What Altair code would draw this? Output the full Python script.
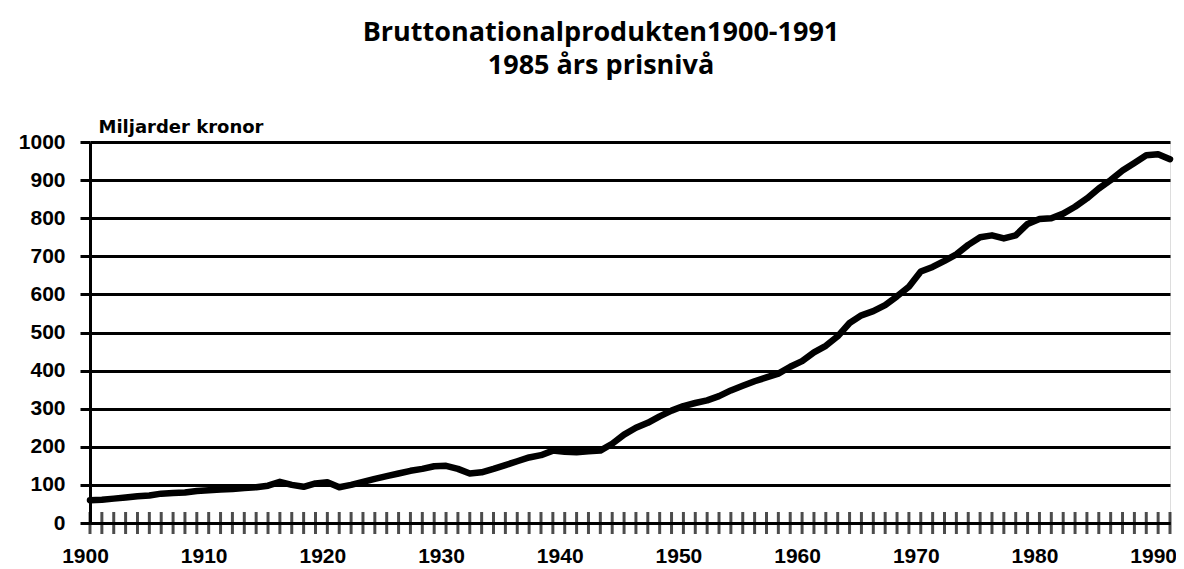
import altair as alt
import pandas as pd

years = list(range(1900, 1992))
gdp = [
    60, 61, 64, 67, 70, 72, 77, 79, 80, 84,
    86, 88, 89, 92, 94, 98, 108, 100, 95, 104,
    107, 94, 100, 108, 116, 123, 130, 137, 142, 149,
    150, 142, 130, 133, 142, 152, 162, 172, 178, 190,
    187, 186, 188, 190, 208, 232, 250, 263, 280, 295,
    307, 315, 322, 333, 348, 360, 372, 382, 392, 410,
    425, 448, 465, 490, 525, 545, 556, 572, 595, 620,
    660, 672, 688, 705, 730, 750, 755, 747, 755, 785,
    798, 800, 812, 830, 852, 878, 900, 925, 945, 965,
    968, 955,
]
x_label_years = list(range(1900, 1991, 10))
y_ticks = list(range(0, 1001, 100))

title_lines = ["Bruttonationalprodukten1900-1991", "1985 års prisnivå"]
y_title = "Miljarder kronor"

df = pd.DataFrame({"year": years, "gdp": gdp})
tick_df = pd.DataFrame({"year": years})

x_scale = alt.Scale(domain=[1900, 1991], nice=False, zero=False)
y_scale = alt.Scale(domain=[0, 1000], nice=False)

label_font = "Liberation Sans"

line = alt.Chart(df).mark_line(
    color="black", strokeWidth=6.5, strokeJoin="round", strokeCap="round"
).encode(
    x=alt.X("year:Q", scale=x_scale,
            axis=alt.Axis(values=x_label_years, format="d", tickCount=40, ticks=False, grid=False,
                          domainColor="black", domainWidth=3,
                          labelFont=label_font, labelFontSize=21, labelFontWeight="bold",
                          labelColor="black", labelPadding=22, labelFlush=False,
                          labelOverlap=False, labelOffset=-5, title=None)),
    y=alt.Y("gdp:Q", scale=y_scale,
            axis=alt.Axis(values=y_ticks, format="d", tickCount=20, labelOverlap=False,
                          grid=True, gridColor="black", gridWidth=3, gridOpacity=1,
                          tickColor="black", tickWidth=3, tickSize=10,
                          domainColor="black", domainWidth=3,
                          labelFont=label_font, labelFontSize=21, labelFontWeight="bold",
                          labelColor="black", labelPadding=15,
                          title=y_title, titleAngle=0, titleX=8, titleY=-10,
                          titleAlign="left", titleBaseline="alphabetic",
                          titleFont="DejaVu Sans", titleFontSize=18, titleFontWeight="bold",
                          titleColor="black")),
)

ticks = alt.Chart(tick_df).mark_tick(
    orient="vertical", size=22, thickness=3, color="black"
).encode(
    x=alt.X("year:Q", scale=x_scale),
    y=alt.datum(0),
)

chart = alt.layer(line, ticks).properties(
    width=1080,
    height=381,
    padding={"left": 82, "top": 134, "right": 6, "bottom": 44},
    autosize=alt.AutoSizeParams(type="none"),
    title=alt.TitleParams(
        text=title_lines, font="Open Sans", fontSize=27, fontWeight="bold",
        color="black", anchor="middle", frame="group", dx=-29, lineHeight=33, offset=38,
    ),
).configure_view(stroke=None).configure(background="white")

chart.save("out.html", embed_options={"renderer": "svg", "actions": False})
